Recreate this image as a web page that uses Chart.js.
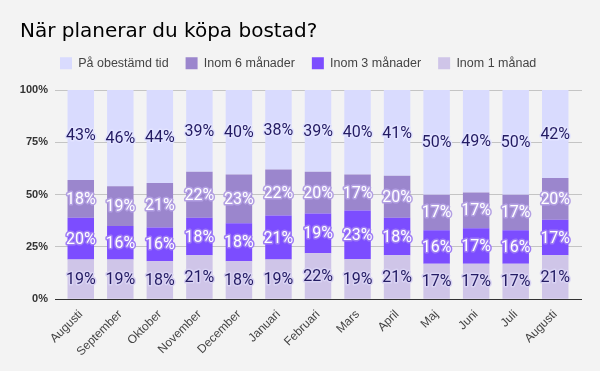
<!DOCTYPE html>
<html lang="sv">
<head>
<meta charset="utf-8">
<title>När planerar du köpa bostad?</title>
<script src="https://cdn.jsdelivr.net/npm/chart.js@4"></script>
<style>
  html, body { margin: 0; padding: 0; background: #f3f3f3; }
  #ruta { width: 600px; height: 371px; }
</style>
</head>
<body>
<div id="ruta"><canvas id="grafico" width="600" height="371"></canvas></div>
<script>
// månader och andelar (%) per svarsalternativ
const manader = ["Augusti", "September", "Oktober", "November", "December", "Januari",
  "Februari", "Mars", "April", "Maj", "Juni", "Juli", "Augusti"];
const obestamd = [43, 46, 44, 39, 40, 38, 39, 40, 41, 50, 49, 50, 42];
const sexManader = [18, 19, 21, 22, 23, 22, 20, 17, 20, 17, 17, 17, 20];
const treManader = [20, 16, 16, 18, 18, 21, 19, 23, 18, 16, 17, 16, 17];
const enManad = [19, 19, 18, 21, 18, 19, 22, 19, 21, 17, 17, 17, 21];
const yTicks = [0, 25, 50, 75, 100];

// staplarna ska fylla 100 %, även där avrundningen ger 99
const summor = manader.map((m, i) => obestamd[i] + sexManader[i] + treManader[i] + enManad[i]);
const andel = (serie) => serie.map((v, i) => (v / summor[i]) * 100);

const serier = [
  { label: "Inom 1 månad", varden: enManad, farg: "#cfc5e8", text: "#231b63", halo: "#d9d3f3" },
  { label: "Inom 3 månader", varden: treManader, farg: "#7c4dff", text: "#ffffff", halo: "#9e7cf5" },
  { label: "Inom 6 månader", varden: sexManader, farg: "#9b86cd", text: "#ffffff", halo: "#b3a0e3" },
  { label: "På obestämd tid", varden: obestamd, farg: "#d9dbfe", text: "#231b63", halo: "#e2e3ff" },
];

Chart.defaults.font.family = "'Liberation Sans', Arial, sans-serif";

// procentetiketter mitt i varje segment
const etiketter = {
  id: "etiketter",
  afterDatasetsDraw(chart) {
    const ctx = chart.ctx;
    ctx.save();
    ctx.font = "16px Roboto";
    ctx.textAlign = "center";
    ctx.textBaseline = "middle";
    ctx.lineJoin = "round";
    ctx.lineWidth = 3;
    serier.forEach((s, i) => {
      chart.getDatasetMeta(i).data.forEach((bar, j) => {
        const { x, y, base } = bar.getProps(["x", "y", "base"], true);
        const text = s.varden[j] + "%";
        const ym = (y + base) / 2 + 1;
        ctx.strokeStyle = s.halo;
        ctx.strokeText(text, x, ym);
        ctx.fillStyle = s.text;
        ctx.fillText(text, x, ym);
      });
    });
    ctx.restore();
  },
};

// rubrik och legend på fasta platser ovanför ritytan
const placeraRubrik = {
  id: "placeraRubrik",
  beforeDraw(chart) {
    chart.titleBlock.top = 0;
    chart.legend.top = 40;
    chart.legend.left = 43;
  },
};

const gridFarg = (c) => (c.tick && c.tick.value === 0 ? "#333333" : "#c4c4c4");

new Chart(document.getElementById("grafico"), {
  type: "bar",
  data: {
    labels: manader,
    datasets: serier.map((s) => ({
      label: s.label,
      data: andel(s.varden),
      backgroundColor: s.farg,
      borderWidth: 0,
      categoryPercentage: 0.67,
      barPercentage: 1,
    })),
  },
  options: {
    responsive: false,
    animation: false,
    layout: { padding: { left: 20, right: 18, top: 0, bottom: 4 } },
    plugins: {
      title: {
        display: true,
        text: "När planerar du köpa bostad?",
        align: "start",
        color: "#000000",
        font: { family: "'DejaVu Sans'", size: 20, weight: "normal" },
        padding: { top: 20, bottom: 0 },
      },
      legend: {
        position: "top",
        align: "start",
        reverse: true,
        labels: {
          boxWidth: 12,
          boxHeight: 12,
          padding: 17,
          color: "#444444",
          font: { size: 12.5 },
        },
      },
      tooltip: { enabled: false },
    },
    scales: {
      x: {
        stacked: true,
        grid: { display: false, drawTicks: false },
        border: { display: false },
        afterFit: (axis) => {
          axis.paddingLeft = 0;
          axis.paddingRight = 0;
        },
        ticks: {
          color: "#444444",
          font: { size: 12 },
          minRotation: 45,
          maxRotation: 45,
          autoSkip: false,
          padding: 8,
        },
      },
      y: {
        stacked: true,
        min: 0,
        max: 100,
        afterBuildTicks: (axis) => {
          axis.ticks = yTicks.map((v) => ({ value: v }));
        },
        afterFit: (axis) => {
          axis.width = 41;
          axis.paddingTop = 90;
        },
        grid: { color: gridFarg, tickLength: 6, lineWidth: 1 },
        border: { display: false },
        ticks: {
          color: "#333333",
          font: { size: 11, weight: "bold" },
          padding: 7,
          callback: (v) => v + "%",
        },
      },
      y2: {
        position: "right",
        min: 0,
        max: 100,
        afterBuildTicks: (axis) => {
          axis.ticks = yTicks.map((v) => ({ value: v }));
        },
        afterFit: (axis) => {
          axis.width = 7;
        },
        grid: { color: gridFarg, drawOnChartArea: false, drawTicks: true, tickLength: 7 },
        border: { display: false },
        ticks: { display: false },
      },
    },
  },
  plugins: [etiketter, placeraRubrik],
});
</script>
</body>
</html>
